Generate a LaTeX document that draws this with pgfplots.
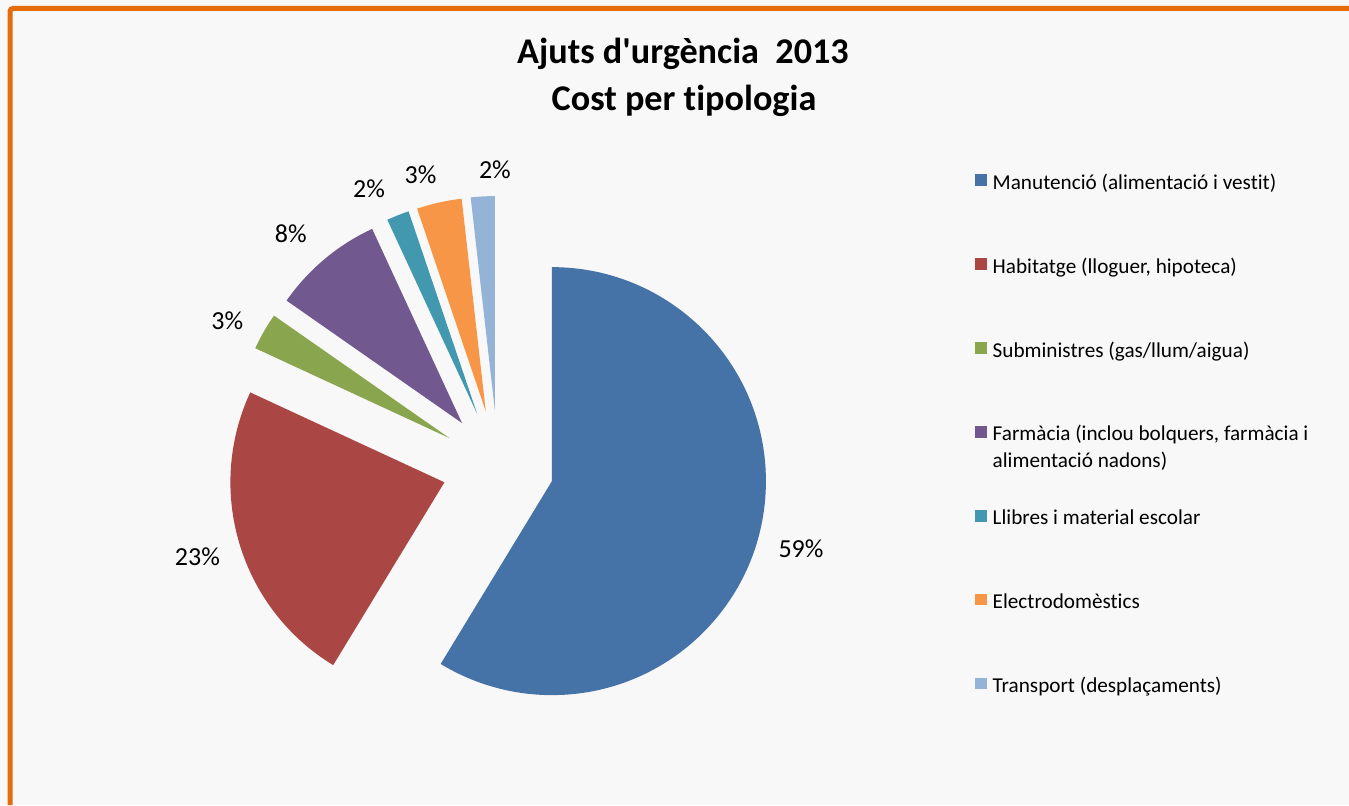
\documentclass[border=0pt]{standalone}
\usepackage{fontspec}
\setmainfont{Carlito}[Ligatures={TeXOff,NoCommon}]
\usepackage{pgfplots}
\pgfplotsset{compat=1.18}
\usepackage{pgfplotstable}

\definecolor{cManut}{HTML}{4572A7}
\definecolor{cHabit}{HTML}{AA4643}
\definecolor{cSubm}{HTML}{89A54E}
\definecolor{cFarm}{HTML}{71588F}
\definecolor{cLlib}{HTML}{4198AF}
\definecolor{cElec}{HTML}{F79646}
\definecolor{cTrans}{HTML}{95B3D7}
\definecolor{bgcol}{HTML}{F8F8F8}
\definecolor{framecol}{HTML}{E46C0A}

% 1 px of the reference = 0.5pt
\def\pieR{107pt}  % radius
\def\pieE{28pt}   % explosion of every slice

% pct = share, start = cumulative share before the slice,
% la/ld = angle (deg) and distance (pt) of the label from the pie centre
\pgfplotstableread{
pct  start la     ld
58.7 0.0   -15.2  157
23.2 58.7  -163.2 157
2.8  81.9  151.8  153.6
8.4  84.7  131.7  155.8
1.7  93.1  114.9  153.1
3.4  94.8  104.9  150.5
1.8  98.2  90.6   148
}\pietable

% one exploded wedge plus its percentage, drawn at the pie centre
\pgfdeclareplotmark{wedge}{%
  \pgfmathsetmacro\wa{90-3.6*\slstart}%
  \pgfmathsetmacro\wb{90-3.6*(\slstart+\slpct)}%
  \pgfmathsetmacro\wm{(\wa+\wb)/2}%
  \pgfpathmoveto{\pgfpointpolar{\wm}{\pieE}}%
  \pgfpathlineto{\pgfpointadd{\pgfpointpolar{\wm}{\pieE}}{\pgfpointpolar{\wa}{\pieR}}}%
  \pgfpatharc{\wa}{\wb}{\pieR}%
  \pgfpathclose
  \pgfusepathqfill
  \pgftext[at=\pgfpointpolar{\slla}{\slld pt}]{\color{black}\fontsize{13}{15}\selectfont
    \pgfmathprintnumber[fixed,precision=0,assume math mode=true]{\slpct}\%}%
}

\pgfplotsset{
  pie slice/.style={
    forget plot, only marks, mark=wedge, color=#1,
    visualization depends on={\thisrow{pct}\as\slpct},
    visualization depends on={\thisrow{start}\as\slstart},
    visualization depends on={\thisrow{la}\as\slla},
    visualization depends on={\thisrow{ld}\as\slld},
  },
}

\begin{document}
\begin{tikzpicture}
\fill[bgcol] (0,0) rectangle (674.5pt,402.5pt);
\draw[framecol, line width=2.5pt, rounded corners=1.5pt]
  (5pt,0) -- (5pt,398.25pt) -- (674.5pt,398.25pt);
\begin{axis}[
  width=674.5pt, height=402.5pt, scale only axis,
  at={(0,0)}, anchor=south west,
  xmin=0, xmax=1349, ymin=0, ymax=805, y dir=reverse,
  hide axis, clip=false,
  legend image code/.code={\fill[#1, draw=none] (0pt,-0.85pt) rectangle (5.85pt,5pt);},
  legend cell align=left,
  legend style={draw=none, fill=none, inner sep=0pt,
    at={(axis cs:975,173.8)}, anchor=north west,
    row sep=32.45pt, column sep=2.8pt,
    font=\fontsize{10.6}{13.35}\selectfont,
    nodes={inner sep=0pt, text height=7pt, text depth=2pt}},
]
\addplot[pie slice=cManut, skip coords between index={1}{7}]
  table[x expr=498, y expr=466] {\pietable};
\addplot[pie slice=cHabit, skip coords between index={0}{1}, skip coords between index={2}{7}]
  table[x expr=498, y expr=466] {\pietable};
\addplot[pie slice=cSubm, skip coords between index={0}{2}, skip coords between index={3}{7}]
  table[x expr=498, y expr=466] {\pietable};
\addplot[pie slice=cFarm, skip coords between index={0}{3}, skip coords between index={4}{7}]
  table[x expr=498, y expr=466] {\pietable};
\addplot[pie slice=cLlib, skip coords between index={0}{4}, skip coords between index={5}{7}]
  table[x expr=498, y expr=466] {\pietable};
\addplot[pie slice=cElec, skip coords between index={0}{5}, skip coords between index={6}{7}]
  table[x expr=498, y expr=466] {\pietable};
\addplot[pie slice=cTrans, skip coords between index={0}{6}]
  table[x expr=498, y expr=466] {\pietable};

\addlegendimage{fill=cManut}
\addlegendentry{Manutenció (alimentació i vestit)}
\addlegendimage{fill=cHabit}
\addlegendentry{Habitatge (lloguer, hipoteca)}
\addlegendimage{fill=cSubm}
\addlegendentry{Subministres (gas/llum/aigua)}
\addlegendimage{fill=cFarm}
\addlegendentry{\parbox[t]{170pt}{Farmàcia (inclou bolquers, farmàcia i\\alimentació nadons)}}
\addlegendimage{fill=cLlib}
\addlegendentry{Llibres i material escolar}
\addlegendimage{fill=cElec}
\addlegendentry{Electrodomèstics}
\addlegendimage{fill=cTrans}
\addlegendentry{Transport (desplaçaments)}

\node[anchor=base, font=\bfseries\fontsize{18.1}{22}\selectfont]
  at (axis cs:683,63.3) {Ajuts d'urgència\ \ 2013};
\node[anchor=base, font=\bfseries\fontsize{18.1}{22}\selectfont]
  at (axis cs:684,110.5) {Cost per tipologia};
\end{axis}
\pgfresetboundingbox
\path (0,0) rectangle (674.5pt,402.5pt);
\end{tikzpicture}
\end{document}
